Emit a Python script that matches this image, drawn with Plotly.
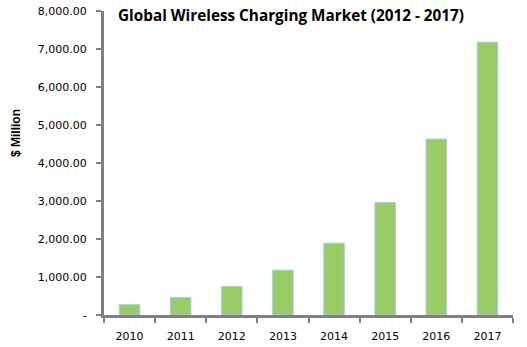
import plotly.graph_objects as go

years = ["2010", "2011", "2012", "2013", "2014", "2015", "2016", "2017"]
market_musd = [270, 460, 750, 1180, 1890, 2960, 4630, 7180]
y_tickvals = [0, 1000, 2000, 3000, 4000, 5000, 6000, 7000, 8000]
y_ticktext = ["-", "1,000.00", "2,000.00", "3,000.00", "4,000.00", "5,000.00",
              "6,000.00", "7,000.00", "8,000.00"]

fig = go.Figure(go.Bar(
    x=years, y=market_musd,
    marker=dict(color="#99cc66", line=dict(color="#a8c8ee", width=1)),
))

W, H = 527, 347
L, R, T, B = 104, 14, 11, 32
PW, PH = W - L - R, H - T - B
tick_font = dict(family="DejaVu Sans", size=11, color="black")
fig.update_layout(
    width=W, height=H,
    margin=dict(l=L, r=R, t=T, b=B, autoexpand=False),
    paper_bgcolor="white", plot_bgcolor="white",
    bargap=0.6, showlegend=False,
    font=dict(family="DejaVu Sans", size=11, color="black"),
    xaxis=dict(showline=True, linecolor="#808080", linewidth=3, automargin=False,
               ticks="outside", tickson="boundaries", ticklen=5, tickwidth=2,
               tickcolor="#808080", ticklabelstandoff=9, showgrid=False,
               tickfont=tick_font),
    yaxis=dict(range=[0, 8000], tickvals=y_tickvals, ticktext=y_ticktext,
               showline=True, linecolor="#808080", linewidth=3, automargin=False,
               ticks="outside", ticklen=5, tickwidth=2, tickcolor="#808080",
               ticklabelstandoff=7, showgrid=False, zeroline=False,
               tickfont=tick_font),
    annotations=[
        dict(text="<b>Global Wireless Charging Market (2012 - 2017)</b>",
             xref="paper", yref="paper", x=(291 - L) / PW, y=1 - 4 / PH,
             xanchor="center", yanchor="middle", showarrow=False,
             font=dict(family="Open Sans", size=15.3, color="black")),
        dict(text="<b>$ Million</b>", textangle=-90,
             xref="paper", yref="paper", x=(16 - L) / PW, y=(315 - 133) / PH,
             xanchor="center", yanchor="middle", showarrow=False,
             font=dict(family="Liberation Sans Narrow, Liberation Sans", size=12, color="black")),
    ],
)

fig.write_html("out.html")
